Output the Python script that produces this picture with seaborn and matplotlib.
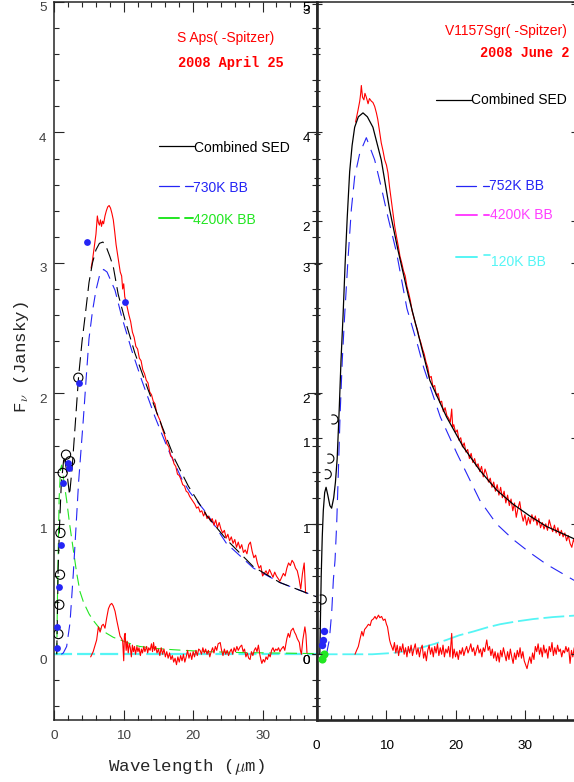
import matplotlib
matplotlib.use('Agg')
import matplotlib.pyplot as plt
import seaborn as sns
from matplotlib.path import Path
from matplotlib.ticker import MultipleLocator
from matplotlib.transforms import ScaledTranslation

# ---------------- S Aps (left panel) ----------------
saps_spec_x = [5.3, 5.5, 5.75, 6.0, 6.2, 6.35, 6.5, 6.65, 6.8, 6.95, 7.1, 7.3, 7.5, 7.7, 7.9, 8.1, 8.3,
               8.5, 8.7, 8.9, 9.1, 9.3, 9.5, 9.7, 9.85, 10.0, 10.15, 10.3,
               10.5, 10.75, 11.0, 11.25, 11.5, 11.75, 12.0, 12.25, 12.5, 12.75, 13.0, 13.25, 13.5, 13.75,
               14.0, 14.25, 14.5, 14.75, 15.0, 15.25, 15.5, 15.75, 16.0, 16.25, 16.5, 16.75, 17.0, 17.25,
               17.5, 17.75, 18.0, 18.25, 18.5, 18.75, 19.0, 19.25, 19.5, 19.75, 20.0, 20.25, 20.5, 20.75,
               21.0, 21.25, 21.5, 21.75, 22.0, 22.25, 22.5, 22.75, 23.0, 23.25, 23.5, 23.75, 24.0, 24.25,
               24.5, 24.75, 25.0, 25.25, 25.5, 25.75, 26.0, 26.25, 26.5, 26.75, 27.0, 27.25, 27.5, 27.75,
               28.0, 28.25, 28.5, 28.75, 29.0, 29.25, 29.5, 29.75, 30.0, 30.25, 30.5, 30.75, 31.0, 31.25,
               31.5, 31.75, 32.0, 32.25, 32.5, 32.75, 33.0, 33.25, 33.5, 33.75, 34.0, 34.25, 34.5, 34.75,
               35.0, 35.25, 35.5, 35.75, 36.0, 36.2]
saps_spec_y = [2.96, 3.02, 3.12, 3.22, 3.36, 3.31, 3.29, 3.33, 3.28, 3.32, 3.30, 3.36, 3.40, 3.43, 3.44, 3.42, 3.38,
               3.33, 3.24, 3.14, 3.07, 3.00, 2.93, 2.90, 2.80, 2.84, 2.74, 2.71,
               2.66, 2.60, 2.55, 2.47, 2.43, 2.36, 2.34, 2.27, 2.25, 2.18, 2.15, 2.10, 2.08, 2.01,
               1.99, 1.94, 1.92, 1.85, 1.82, 1.79, 1.74, 1.70, 1.66, 1.61, 1.59, 1.52, 1.51, 1.46,
               1.44, 1.38, 1.37, 1.34, 1.30, 1.29, 1.25, 1.24, 1.21, 1.19, 1.17, 1.15, 1.12, 1.13,
               1.09, 1.10, 1.06, 1.09, 1.04, 1.06, 1.02, 1.04, 0.99, 1.03, 0.97, 1.01, 0.96, 0.93,
               0.95, 0.89, 0.92, 0.87, 0.90, 0.85, 0.88, 0.82, 0.86, 0.81, 0.84, 0.78, 0.80, 0.77,
               0.84, 0.86, 0.79, 0.74, 0.76, 0.70, 0.66, 0.68, 0.60, 0.62, 0.64, 0.61, 0.65, 0.62,
               0.59, 0.63, 0.60, 0.58, 0.56, 0.59, 0.62, 0.60, 0.66, 0.70, 0.68, 0.72, 0.70, 0.66,
               0.64, 0.58, 0.50, 0.62, 0.70, 0.47]

saps_resid_x = [5.24, 5.6, 6.1, 6.35, 6.6, 6.85, 7.06, 7.3, 7.55, 7.8, 8.05, 8.27, 8.5, 8.75, 9.0, 9.2, 9.47,
                9.7, 9.85, 10.0, 10.1, 10.2, 10.35, 10.5, 10.65, 10.8, 10.95, 11.1, 11.25, 11.4, 11.55,
                11.7, 11.9, 12.05, 12.2, 12.4, 12.55, 12.7, 12.9, 13.05, 13.3, 13.45, 13.6, 13.8, 14.0,
                14.15, 14.3, 14.45, 14.6, 14.8, 15.0, 15.2, 15.4, 15.6, 15.8, 16.0, 16.2, 16.4, 16.6,
                16.8, 17.0, 17.2, 17.4, 17.6, 17.8, 18.0, 18.2, 18.4, 18.6, 18.8, 19.0, 19.2, 19.4, 19.6,
                19.8, 20.0, 20.2, 20.4, 20.6, 20.8, 21.0, 21.2, 21.4, 21.6, 21.8, 22.0, 22.2, 22.4, 22.6,
                22.8, 23.0, 23.2, 23.4, 23.6, 23.9, 24.1, 24.3, 24.5, 24.7, 24.9, 25.1, 25.3, 25.5, 25.7,
                25.9, 26.1, 26.3, 26.5, 26.8, 27.0, 27.2, 27.4, 27.6, 27.8, 28.0, 28.2, 28.4, 28.6, 28.8,
                29.0, 29.2, 29.4, 29.6, 29.8, 29.9, 30.1, 30.3, 30.5, 30.7, 30.9, 31.1, 31.3, 31.5, 31.7,
                31.9, 32.1, 32.3, 32.5, 32.7, 33.0, 33.2, 33.5, 33.7, 33.9, 34.1, 34.4, 34.6, 34.8, 35.0,
                35.3, 35.45, 35.6, 35.8, 36.1, 36.25, 36.4]
saps_resid_y = [-0.02, 0.02, 0.11, 0.21, 0.17, 0.22, 0.23, 0.20, 0.28, 0.35, 0.38, 0.39, 0.37, 0.33, 0.26, 0.21, 0.14,
                0.12, 0.10, -0.05, 0.14, 0.16, 0.03, 0.10, 0.01, 0.08, 0.05, -0.02, 0.07, 0.02, 0.06,
                0.00, 0.06, 0.02, 0.05, -0.01, 0.04, 0.01, 0.06, 0.02, 0.06, 0.01, 0.05, 0.03, 0.08,
                0.02, 0.09, 0.03, 0.06, 0.01, 0.04, -0.01, 0.05, 0.00, 0.04, -0.02, 0.02, -0.03, 0.01,
                -0.04, -0.01, -0.06, -0.03, -0.08, -0.02, -0.06, -0.01, -0.05, 0.00, -0.06, -0.02, 0.03, -0.03, 0.01,
                -0.04, 0.02, -0.02, 0.03, -0.01, 0.04, 0.03, 0.00, 0.05, 0.01, 0.04, 0.00, 0.03, -0.02, 0.02,
                0.05, 0.01, 0.06, 0.03, 0.08, 0.09, 0.03, -0.01, 0.04, 0.00, 0.03, -0.01, 0.02, 0.04, 0.00,
                0.05, 0.02, 0.06, 0.03, 0.06, 0.07, 0.02, 0.04, -0.02, 0.01, -0.03, -0.04, 0.02, -0.01, 0.03,
                0.05, 0.02, 0.07, 0.00, -0.05, -0.07, -0.04, -0.06, -0.02, -0.04, 0.00, -0.02, 0.03, 0.05, 0.02,
                0.04, 0.03, 0.05, 0.02, 0.04, 0.06, 0.03, 0.12, 0.16, 0.13, 0.18, 0.20, 0.17, 0.15, 0.12,
                0.09, 0.03, 0.00, 0.11, 0.21, 0.15, 0.01]

saps_sed_x = [0.35, 0.45, 0.55, 0.75, 1.0, 1.4, 1.8, 2.2, 2.6, 3.0, 3.5, 4.0, 4.5, 5.0, 5.5, 6.0, 6.5, 7.0,
              7.5, 8.0, 8.5, 9.2, 10.2, 11.6, 13.5, 15.5, 17.4, 19.3, 22.0, 24.8, 28.7, 32.5, 37.8]
saps_sed_y = [0.0, 0.3, 0.65, 0.98, 1.3, 1.52, 1.4, 1.22, 1.45, 1.75, 2.13, 2.4, 2.62, 2.85, 3.0, 3.1, 3.15, 3.16,
              3.12, 3.05, 2.97, 2.76, 2.56, 2.31, 2.03, 1.75, 1.49, 1.29, 1.06, 0.88, 0.67, 0.55, 0.44]

saps_bb730_x = [1.0, 1.3, 1.78, 2.26, 2.74, 3.1, 3.5, 4.18, 4.57, 5.0, 5.5, 6.0, 6.5, 7.1, 7.6, 8.75, 9.7,
                11.15, 12.6, 14.5, 16.4, 18.4, 19.55, 21.96, 24.8, 28.7, 32.5, 37.8]
saps_bb730_y = [0.0, 0.01, 0.06, 0.24, 0.62, 0.95, 1.32, 1.8, 2.1, 2.42, 2.63, 2.79, 2.9, 2.95, 2.93, 2.79, 2.59,
                2.33, 2.10, 1.82, 1.57, 1.34, 1.24, 1.08, 0.85, 0.66, 0.55, 0.44]

saps_bb4200_x = [0.35, 0.5, 0.7, 0.9, 1.06, 1.4, 1.78, 2.2, 2.74, 3.23, 3.7, 4.2, 5.0, 5.6, 6.5, 7.55, 8.5, 9.5,
                 11.0, 12.3, 14.5, 17.1, 22.0, 27.0, 31.6, 37.8]
saps_bb4200_y = [0.0, 0.6, 1.2, 1.42, 1.45, 1.32, 1.18, 1.0, 0.8, 0.62, 0.48, 0.4, 0.31, 0.26, 0.2, 0.16, 0.13, 0.11,
                 0.08, 0.06, 0.045, 0.035, 0.02, 0.013, 0.01, 0.005]

saps_zero_x = [0.0, 37.8]
saps_zero_y = [0.0, 0.0]

saps_open_x = [0.58, 0.72, 0.82, 0.88, 1.2, 1.69, 2.26, 3.46]
saps_open_y = [0.155, 0.38, 0.61, 0.93, 1.39, 1.53, 1.48, 2.12]
saps_phot_x = [0.35, 0.43, 0.68, 0.95, 1.3, 1.93, 2.16, 3.56, 4.76, 10.2]
saps_phot_y = [0.05, 0.21, 0.515, 0.84, 1.31, 1.47, 1.43, 2.08, 3.16, 2.7]

# ---------------- V1157 Sgr (right panel) ----------------
v1157_spec_x = [5.6, 5.95, 6.2, 6.34, 6.43, 6.6, 6.8, 6.95, 7.15, 7.4, 7.6, 7.87, 8.1, 8.35, 8.6, 8.8, 9.05,
                9.3, 9.55, 9.8, 10.05, 10.27, 10.5, 10.75, 11.0, 11.24,
                11.5, 11.75, 12.0, 12.25, 12.5, 12.75, 13.0, 13.25, 13.5, 13.75, 14.0, 14.25, 14.5, 14.75,
                15.0, 15.25, 15.5, 15.75, 16.0, 16.25, 16.5, 16.75, 17.0, 17.25, 17.5, 17.75, 18.0, 18.25,
                18.5, 18.75, 19.0, 19.25, 19.45, 19.6, 19.75, 20.0, 20.25, 20.5, 20.75, 21.0, 21.25, 21.5,
                21.75, 22.0, 22.25, 22.5, 22.75, 23.0, 23.25, 23.5, 23.75, 24.0, 24.25, 24.5, 24.75, 25.0,
                25.25, 25.5, 25.75, 26.0, 26.25, 26.5, 26.75, 27.0, 27.25, 27.5, 27.75, 28.0, 28.25, 28.5,
                28.75, 29.0, 29.25, 29.5, 29.75, 30.0, 30.25, 30.5, 30.75, 31.0, 31.25, 31.5, 31.75, 32.0,
                32.25, 32.5, 32.75, 33.0, 33.25, 33.5, 33.75, 34.0, 34.25, 34.5, 34.75, 35.0, 35.25, 35.5,
                35.75, 36.0, 36.25, 36.5, 36.75, 37.0, 37.25]
v1157_spec_y = [4.08, 4.17, 4.24, 4.30, 4.36, 4.27, 4.25, 4.30, 4.27, 4.22, 4.26, 4.24, 4.23, 4.20, 4.15, 4.10, 4.01,
                3.92, 3.86, 3.79, 3.75, 3.69, 3.58, 3.48, 3.38, 3.28,
                3.20, 3.13, 3.05, 3.00, 2.94, 2.90, 2.82, 2.77, 2.71, 2.63, 2.58, 2.53, 2.49, 2.43,
                2.39, 2.34, 2.30, 2.24, 2.20, 2.12, 2.13, 2.05, 2.06, 1.98, 2.00, 1.93, 1.94, 1.86,
                1.89, 1.83, 1.81, 1.78, 1.88, 1.74, 1.76, 1.70, 1.72, 1.64, 1.66, 1.59, 1.62, 1.55,
                1.57, 1.50, 1.54, 1.47, 1.50, 1.44, 1.46, 1.40, 1.44, 1.36, 1.42, 1.38, 1.32, 1.35,
                1.28, 1.32, 1.25, 1.30, 1.22, 1.28, 1.20, 1.25, 1.16, 1.22, 1.14, 1.19, 1.10, 1.16,
                1.05, 1.12, 1.17, 1.08, 1.02, 1.07, 0.99, 1.05, 1.00, 1.07, 1.02, 1.06, 0.99, 1.04,
                0.97, 1.01, 0.96, 1.00, 0.95, 1.03, 0.98, 0.94, 0.99, 0.93, 0.97, 0.91, 0.95, 0.90,
                0.93, 0.87, 0.91, 0.85, 0.82, 0.88, 0.84]

v1157_resid_x = [5.52, 5.75, 6.0, 6.25, 6.5, 6.7, 6.9, 7.2, 7.45, 7.7, 7.9, 8.15, 8.4, 8.6, 8.9, 9.1, 9.35,
                 9.6, 9.85, 10.05, 10.2, 10.35, 10.5, 10.65, 10.8,
                 11.0, 11.2, 11.4, 11.6, 11.8, 12.0, 12.2, 12.4, 12.6, 12.8, 13.0, 13.2, 13.4, 13.6, 13.8,
                 14.0, 14.2, 14.4, 14.6, 14.8, 15.0, 15.2, 15.4, 15.6, 15.8, 16.0, 16.2, 16.4, 16.6, 16.8,
                 17.0, 17.2, 17.4, 17.6, 17.8, 18.0, 18.2, 18.4, 18.6, 18.8, 19.0, 19.2, 19.45, 19.6, 19.8,
                 20.0, 20.2, 20.4, 20.6, 20.8, 21.0, 21.2, 21.4, 21.6, 21.8, 22.0, 22.2, 22.4, 22.6, 22.8,
                 23.0, 23.2, 23.4, 23.6, 23.8, 24.0, 24.2, 24.5, 24.7, 24.9, 25.1, 25.3, 25.5, 25.7, 25.9,
                 26.1, 26.3, 26.5, 26.7, 26.9, 27.1, 27.3, 27.5, 27.7, 27.9, 28.1, 28.3, 28.5, 28.7, 28.9,
                 29.1, 29.3, 29.5, 29.7, 29.9, 30.1, 30.3, 30.5, 30.7, 30.9, 31.1, 31.3, 31.5, 31.7, 31.9,
                 32.1, 32.3, 32.5, 32.7, 32.9, 33.1, 33.3, 33.5, 33.7, 33.9, 34.1, 34.3, 34.5, 34.7, 34.9,
                 35.1, 35.3, 35.5, 35.7, 35.9, 36.1, 36.3, 36.5, 36.7, 36.9, 37.1, 37.3]
v1157_resid_y = [0.0, 0.03, 0.06, 0.12, 0.175, 0.14, 0.19, 0.21, 0.23, 0.22, 0.26, 0.27, 0.29, 0.27, 0.30, 0.28, 0.29,
                 0.26, 0.27, 0.23, 0.21, 0.16, 0.11, 0.08, 0.06,
                 0.03, 0.09, 0.01, 0.07, -0.01, 0.06, 0.02, 0.08, 0.00, 0.05, -0.02, 0.06, 0.01, 0.07, -0.01,
                 0.04, 0.08, 0.00, 0.05, -0.02, 0.04, 0.07, -0.03, 0.02, -0.05, 0.03, 0.07, 0.00, 0.05, -0.02,
                 0.06, 0.01, 0.08, -0.01, 0.05, 0.00, 0.07, -0.02, 0.04, 0.01, 0.06, -0.02, 0.16, -0.03, 0.04,
                 -0.02, 0.02, -0.04, 0.03, 0.00, 0.05, -0.01, 0.03, 0.06, 0.01, 0.04, 0.08, 0.02, 0.05, -0.01,
                 0.03, 0.07, 0.01, 0.04, -0.02, 0.05, 0.02, 0.11, 0.03, 0.06, -0.01, 0.04, -0.03, 0.02, -0.05,
                 0.01, -0.06, 0.03, -0.02, 0.05, 0.00, -0.05, 0.02, -0.04, 0.04, -0.02, -0.07, 0.01, -0.04, 0.03,
                 -0.02, 0.05, -0.03, 0.02, -0.05, -0.08, -0.11, -0.06, -0.02, -0.07, 0.01, -0.04, 0.06, 0.02, 0.08,
                 0.00, 0.05, -0.02, 0.07, 0.01, 0.04, -0.03, 0.06, 0.02, 0.09, -0.01, 0.05, 0.00, 0.07, 0.02,
                 0.04, -0.02, 0.03, 0.01, 0.06, 0.02, 0.05, -0.07, 0.03, -0.02, 0.05, 0.01]

v1157_sed_x = [0.45, 0.55, 0.65, 0.8, 0.95, 1.15, 1.35, 1.6, 1.9, 2.15, 2.45, 2.7, 2.95, 3.26, 3.5, 3.8, 4.1,
               4.4, 4.75, 5.1, 5.47, 6.0, 6.67, 7.3, 8.1, 9.3, 10.5, 11.7, 13.2, 14.6, 16.3, 18.7, 21.1,
               23.5, 25.9, 28.3, 30.7, 33.1, 37.3]
v1157_sed_y = [0.0, 0.3, 0.6, 0.9, 1.1, 1.24, 1.28, 1.22, 1.14, 1.12, 1.2, 1.32, 1.5, 1.9, 2.25, 2.6, 3.0,
               3.35, 3.7, 3.9, 4.04, 4.12, 4.15, 4.12, 4.04, 3.79, 3.41, 3.10, 2.75, 2.46, 2.10, 1.82, 1.59,
               1.41, 1.26, 1.15, 1.06, 0.98, 0.88]

v1157_bb752_x = [1.2, 1.44, 1.82, 2.16, 2.4, 2.64, 2.88, 3.11, 3.36, 3.69, 4.03, 4.5, 4.99, 5.47, 6.2, 7.15,
                 8.35, 9.3, 10.27, 11.5, 13.0, 14.6, 15.4, 17.8, 20.2, 23.5, 25.9, 28.3, 30.7, 33.1, 37.3]
v1157_bb752_y = [0.0, 0.01, 0.11, 0.32, 0.57, 0.72, 1.0, 1.38, 1.82, 2.26, 2.6, 3.02, 3.41, 3.66, 3.84, 3.96,
                 3.79, 3.58, 3.35, 3.08, 2.65, 2.36, 2.2, 1.82, 1.54, 1.18, 1.0, 0.88, 0.78, 0.69, 0.56]

v1157_bb120_x = [0.0, 8.0, 11.0, 13.0, 15.0, 17.0, 18.7, 20.5, 22.6, 24.5, 26.4, 28.8, 31.2, 34.0, 37.3]
v1157_bb120_y = [0.0, 0.0, 0.01, 0.025, 0.05, 0.08, 0.11, 0.145, 0.175, 0.205, 0.23, 0.252, 0.27, 0.285, 0.297]

v1157_open_x = [0.72, 1.44, 1.82, 2.4]
v1157_open_y = [0.42, 1.38, 1.50, 1.80]
v1157_phot_x = [0.72, 0.86, 1.05]
v1157_phot_y = [0.07, 0.11, 0.18]
v1157_nir_x = [0.72, 1.05]
v1157_nir_y = [-0.04, 0.004]

RED = '#ff0000'
BLUE = '#2525f5'
GREEN = '#22e622'
CYAN = '#55f5f5'
MAGENTA = '#ff40ff'


def curve(ax, x, y, color, lw=0.8, ls='-', z=2):
    sns.lineplot(x=x, y=y, ax=ax, color=color, linewidth=lw, linestyle=ls,
                 sort=False, estimator=None, errorbar=None, legend=False, zorder=z)


def key(ax, segs, y, color, lw=0.9):
    # legend key drawn as short segments in axes fraction
    for x0, x1 in segs:
        ax.plot([x0, x1], [y, y], color=color, lw=lw, transform=ax.transAxes, clip_on=False)


sns.set_style('ticks')
plt.rcParams['font.family'] = ['Liberation Sans', 'DejaVu Sans']
plt.rcParams['mathtext.fontset'] = 'cm'
plt.rcParams['lines.scale_dashes'] = False

W, H = 574, 782
fig = plt.figure(figsize=(W / 100, H / 100), dpi=100)
ax1 = fig.add_axes([54.3 / W, 62.5 / H, 262.4 / W, 717.5 / H], zorder=1)
ax2 = fig.add_axes([316.7 / W, 62.5 / H, 258.9 / W, 717.5 / H], zorder=2)
ax3 = fig.add_axes([316.7 / W, 62.5 / H, 258.9 / W, 717.5 / H], zorder=3)

mono = ['Liberation Mono', 'DejaVu Sans Mono']

# ---- left panel ----
curve(ax1, saps_zero_x, saps_zero_y, CYAN, lw=1.6, ls=(0, (13, 3.6)), z=1)
curve(ax1, saps_bb4200_x, saps_bb4200_y, GREEN, lw=0.8, ls=(0, (8, 4)))
curve(ax1, saps_bb730_x, saps_bb730_y, BLUE, lw=0.8, ls=(0, (9, 5)))
curve(ax1, saps_sed_x, saps_sed_y, 'black', lw=0.8, ls=(0, (10, 4.5)), z=3)
curve(ax1, saps_spec_x, saps_spec_y, RED, lw=0.8)
curve(ax1, saps_resid_x, saps_resid_y, RED, lw=0.8)
sns.scatterplot(x=saps_open_x, y=saps_open_y, ax=ax1, s=44, marker='o', color='black',
                facecolor='none', edgecolor='black', linewidth=0.8, legend=False, zorder=4)
sns.scatterplot(x=saps_phot_x, y=saps_phot_y, ax=ax1, s=24, marker='o', color=BLUE,
                edgecolor=BLUE, linewidth=0, legend=False, zorder=5)

ax1.set_xlim(0, 37.8)
ax1.set_ylim(-0.5, 5.0)
ax1.xaxis.set_major_locator(MultipleLocator(10))
ax1.xaxis.set_minor_locator(MultipleLocator(2))
ax1.yaxis.set_major_locator(MultipleLocator(1))
ax1.yaxis.set_minor_locator(MultipleLocator(0.2))
ax1.tick_params(which='both', direction='in', top=True, right=True, labelsize=9.7, labelcolor='#404040')
ax1.tick_params(which='major', length=7, width=0.8)
ax1.tick_params(which='minor', length=3.6, width=0.8)
ax1.tick_params(axis='x', pad=7.5)
ax1.tick_params(axis='y', pad=5.5)
for sp in ax1.spines.values():
    sp.set_linewidth(1.1)
ax1.set_xlabel('')
ax1.set_ylabel('')

ax1.text(0.654, 0.950, 'S Aps( -Spitzer)', transform=ax1.transAxes, color=RED, fontsize=10,
         ha='center', va='center')
ax1.text(0.672, 0.915, '2008 April 25', transform=ax1.transAxes, color=RED, fontsize=9.8,
         family=mono, weight='bold', ha='center', va='center')
key(ax1, [(0.400, 0.532)], 0.799, 'black')
ax1.text(0.532, 0.797, 'Combined SED', transform=ax1.transAxes, color='black', fontsize=10, va='center')
key(ax1, [(0.400, 0.476), (0.498, 0.527)], 0.7436, BLUE)
ax1.text(0.530, 0.741, '730K BB', transform=ax1.transAxes, color=BLUE, fontsize=10, va='center')
key(ax1, [(0.400, 0.476), (0.498, 0.527)], 0.699, GREEN, lw=1.4)
ax1.text(0.530, 0.696, '4200K BB', transform=ax1.transAxes, color=GREEN, fontsize=10, va='center')

# ---- right panel ----
curve(ax2, v1157_bb120_x, v1157_bb120_y, CYAN, lw=1.3, ls=(0, (15, 3.5)), z=1)
curve(ax2, v1157_bb752_x, v1157_bb752_y, BLUE, lw=0.8, ls=(0, (10, 6)))
curve(ax2, v1157_sed_x, v1157_sed_y, 'black', lw=0.9, z=3)
curve(ax2, v1157_spec_x, v1157_spec_y, RED, lw=0.8)
curve(ax2, v1157_resid_x, v1157_resid_y, RED, lw=0.8)
arc = Path.arc(-115, 115)
sns.scatterplot(x=v1157_open_x, y=v1157_open_y, ax=ax2, s=44, marker=arc, color='black',
                facecolor='none', edgecolor='black', linewidth=0.8, legend=False, zorder=4)
sns.scatterplot(x=v1157_phot_x, y=v1157_phot_y, ax=ax2, s=28, marker='o', color=BLUE,
                edgecolor=BLUE, linewidth=0, legend=False, zorder=5)
sns.scatterplot(x=v1157_nir_x, y=v1157_nir_y, ax=ax2, s=34, marker='o', color=GREEN,
                edgecolor=GREEN, linewidth=0, legend=False, zorder=5)

ax2.set_xlim(0, 37.3)
ax2.set_ylim(-0.5, 5.0)
ax2.xaxis.set_major_locator(MultipleLocator(10))
ax2.xaxis.set_minor_locator(MultipleLocator(2))
ax2.yaxis.set_major_locator(MultipleLocator(1))
ax2.yaxis.set_minor_locator(MultipleLocator(0.2))
ax2.tick_params(axis='x', which='both', direction='in', top=False, bottom=True, labelsize=9.7,
                labelcolor='black', pad=14.5)
ax2.tick_params(axis='y', which='both', direction='inout', left=True, right=False, labelsize=9.7,
                labelcolor='black', pad=1.5)
ax2.tick_params(axis='y', which='major', right=True)
ax2.tick_params(which='major', length=7, width=0.8)
ax2.tick_params(which='minor', length=3.6, width=0.8)
ax2.spines['left'].set_linewidth(1.9)
ax2.spines['bottom'].set_linewidth(1.9)
ax2.spines['top'].set_linewidth(1.1)
ax2.spines['right'].set_linewidth(1.1)
ax2.set_xlabel('')
ax2.set_ylabel('')

# second flux scale overlaid on the right panel
ax3.set_xlim(0, 37.3)
ax3.set_ylim(-0.30, 3.011)
ax3.patch.set_visible(False)
for sp in ax3.spines.values():
    sp.set_visible(False)
ax3.xaxis.set_visible(False)
ax3.yaxis.set_major_locator(MultipleLocator(1))
ax3.yaxis.set_minor_locator(MultipleLocator(0.2))
ax3.tick_params(axis='y', which='both', direction='inout', left=True, right=False, labelsize=9.7,
                labelcolor='black', pad=1.5)
ax3.tick_params(axis='y', which='major', right=True, length=7, width=0.8)
ax3.tick_params(axis='y', which='minor', length=5, width=0.8)

ax2.text(0.967, 0.9596, 'V1157Sgr( -Spitzer)', transform=ax2.transAxes, color=RED, fontsize=10,
         ha='right', va='center')
ax2.text(0.9745, 0.929, '2008 June 2', transform=ax2.transAxes, color=RED, fontsize=9.8,
         family=mono, weight='bold', ha='right', va='center')
key(ax2, [(0.4625, 0.596)], 0.8634, 'black')
ax2.text(0.596, 0.8634, 'Combined SED', transform=ax2.transAxes, color='black', fontsize=10, va='center')
key(ax2, [(0.539, 0.6165), (0.642, 0.664)], 0.7436, BLUE)
ax2.text(0.666, 0.7436, '752K BB', transform=ax2.transAxes, color=BLUE, fontsize=10, va='center')
key(ax2, [(0.539, 0.620), (0.645, 0.666)], 0.703, MAGENTA, lw=1.4)
ax2.text(0.668, 0.703, '4200K BB', transform=ax2.transAxes, color=MAGENTA, fontsize=10, va='center')
key(ax2, [(0.539, 0.620)], 0.6446, CYAN, lw=1.4)
key(ax2, [(0.645, 0.668)], 0.6476, CYAN, lw=1.2)
ax2.text(0.672, 0.6376, '120K BB', transform=ax2.transAxes, color=CYAN, fontsize=10, va='center')

# tick labels sit a little below their ticks, as in the original
shift = ScaledTranslation(0, -5 / 100, fig.dpi_scale_trans)
for a in (ax1, ax2, ax3):
    for lab in a.get_yticklabels():
        lab.set_transform(lab.get_transform() + shift)

fig.text(186.5 / W, 1 - 767 / H, r'Wavelength ($\mu$m)', family=mono, fontsize=12.6,
         ha='center', va='center')
fig.text(22 / W, 1 - 357 / H, r'F$_\nu$ (Jansky)', family=mono, fontsize=12.6,
         rotation=90, ha='center', va='center')

fig.savefig('out.png', dpi=100)
